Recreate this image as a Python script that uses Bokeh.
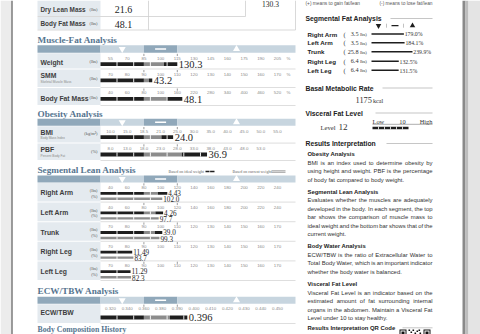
import numpy as np
from bokeh.plotting import figure
from bokeh.embed import file_html
from bokeh.resources import INLINE
from bokeh.core.properties import value

# ---------------- data ----------------
top_labels = ["Dry Lean Mass", "Body Fat Mass"]
top_values = ["21.6", "48.1"]
weight_total = "130.3"

mf_labels = ["Weight", "SMM", "Body Fat Mass"]
mf_sub = ["", "Skeletal Muscle Mass", ""]
mf_units = ["(lbs)", "(lbs)", "(lbs)"]
weight_ticks = [55, 70, 85, 100, 115, 130, 145, 160, 175, 190, 205]
smm_ticks = [70, 80, 90, 100, 110, 120, 130, 140, 150, 160, 170]
bfm_ticks = [40, 60, 80, 100, 160, 220, 280, 340, 400, 460, 520]
mf_pct = [115, 95, 178]          # % of standard (bar length)
mf_values = ["130.3", "43.2", "48.1"]

ob_labels = ["BMI", "PBF"]
ob_sub = ["Body Mass Index", "Percent Body Fat"]
ob_units = ["(kg/m\u00b2)", "(%)"]
bmi_ticks = [10.0, 15.0, 18.5, 21.0, 25.0, 30.0, 35.0, 40.0, 45.0, 50.0, 55.0]
pbf_ticks = [8.0, 13.0, 18.0, 23.0, 28.0, 33.0, 38.0, 43.0, 48.0, 53.0]
ob_values = [24.0, 36.9]

seg_labels = ["Right Arm", "Left Arm", "Trunk", "Right Leg", "Left Leg"]
arm_ticks = [40, 60, 80, 100, 120, 140, 160, 180, 200, 220, 240]
trunk_ticks = [70, 80, 90, 100, 110, 120, 130, 140, 150, 160, 170]
seg_lbs = ["4.43", "4.26", "39.0", "11.49", "11.29"]
seg_ideal_pct = [108, 103, 101, 83, 82]
seg_current_pct = [102.0, 97.7, 99.3, 83.7, 82.3]

ecw_ticks = [0.320, 0.340, 0.360, 0.380, 0.390, 0.400, 0.410, 0.420, 0.430, 0.440, 0.450]
ecw_value = 0.396

fat_labels = ["Right Arm", "Left Arm", "Trunk", "Right Leg", "Left Leg"]
fat_lbs = [3.5, 3.5, 25.8, 6.4, 6.4]
fat_pct = [179.0, 184.1, 239.9, 132.5, 131.5]
bmr = 1175
visceral_level = 12
visceral_ref = 10

obesity_txt = ["BMI is an index used to determine obesity by",
               "using height and weight. PBF is the percentage",
               "of body fat compared to body weight."]
seg_txt = ["Evaluates whether the muscles are adequately",
           "developed in the body. In each segment, the top",
           "bar shows the comparison of muscle mass to",
           "ideal weight and the bottom bar shows that of the",
           "current weight."]
water_txt = ["ECW/TBW is the ratio of Extracellular Water to",
             "Total Body Water, which is an important indicator",
             "whether the body water is balanced."]
visc_txt = ["Visceral Fat Level is an indicator based on the",
            "estimated amount of fat surrounding internal",
            "organs in the abdomen. Maintain a Visceral Fat",
            "Level under 10 to stay healthy."]

# ---------------- figure ----------------
W, H = 480, 334
p = figure(width=W, height=H, x_range=(0, W), y_range=(H, 0), output_backend="svg",
           toolbar_location=None, min_border=0)
p.axis.visible = False
p.xgrid.visible = False
p.ygrid.visible = False
p.outline_line_color = None
p.background_fill_color = "white"
p.border_fill_color = "white"

SANS = "Liberation Sans"
SERIF = "Liberation Serif"
TITLE_C = "#56758f"
HDR_DARK = "#90a8ba"
HDR_LIGHT = "#c7d5df"
CELL = "#e4eaef"
INK = "#1e1e1e"
GRAYBAR = "#8c8c8c"
TXT = "#333333"
LAB = "#3d3d3d"
LAB_SIZE = 6.4


def T(x, y, s, size, color=TXT, font=SANS, style="normal", align="left", base="middle"):
    if not isinstance(s, (list, tuple)):
        x, y, s = [x], [y], [s]
    p.text(x=list(x), y=list(y), text=list(s), text_font=value(font),
           text_font_size=f"{size}px", text_color=color, text_font_style=style,
           text_align=align, text_baseline=base)


def Q(l, r, t, b, color):
    p.quad(left=[l], right=[r], top=[t], bottom=[b], fill_color=color, line_color=None)


def L(x0, y0, x1, y1, color="#d2d2d2", w=0.7):
    p.segment(x0=[x0], y0=[y0], x1=[x1], y1=[y1], line_color=color, line_width=w)


# page frame
Q(0, 11, 0, H, "#ececec")
L(11.5, 0, 11.5, H, "#3a3a3a", 1)
Q(462, 465, 0, H, "#8a8a8a")
Q(465, 468, 0, H, "#bdbdbd")
Q(468, 480, 0, H, "#e4e4e4")

LX0, LX1, SX1 = 37, 100, 295
GX0, GSTEP = 110, 16.7
NRM_L, NRM_R = GX0 + 2 * GSTEP, GX0 + 4 * GSTEP


def gx(v, ticks):
    return GX0 + float(np.interp(v, ticks, np.arange(len(ticks)))) * GSTEP


def title(y, s):
    T(LX0, y, s, 9.2, TITLE_C, SERIF, "bold")


def header(yt, yb):
    Q(LX0, LX1, yt, yb, HDR_DARK)
    Q(LX1, NRM_L, yt, yb, HDR_LIGHT)
    Q(NRM_L, NRM_R, yt, yb, HDR_DARK)
    Q(NRM_R, SX1, yt, yb, HDR_LIGHT)
    ym = (yt + yb) / 2
    p.scatter([(LX1 + NRM_L) / 2], [ym], marker="inverted_triangle", size=7,
              fill_color="white", line_color=None)
    Q((NRM_L + NRM_R) / 2 - 5.5, (NRM_L + NRM_R) / 2 + 5.5, ym - 0.8, ym + 0.8, "white")
    p.scatter([236], [ym], marker="triangle", size=7, fill_color="white", line_color=None)


def scale_row(yt, yb, ticks, fmt, ty, pct=False):
    Q(LX0, LX1, yt + 0.5, yb - 0.5, CELL)
    L(LX1, yb, SX1, yb, "#d0d0d0", 0.7)
    xs = [GX0 + i * GSTEP for i in range(len(ticks))]
    T(xs, [ty] * len(ticks), [fmt.format(t) for t in ticks], 4.4, "#8a8a8a", SANS, align="center")
    for i in (2, 4):
        L(xs[i], ty - 4.2, xs[i], ty - 2.0, "#555555", 0.6)
    if pct:
        T(288, ty, "%", 4.4, "#8a8a8a", SANS, align="center")


def bar(y, h, xend, kind="main"):
    t, b = y - h / 2, y + h / 2
    if kind == "main":
        Q(LX1, min(xend, NRM_L), t, b, INK)
        if xend > NRM_L:
            xm = NRM_L + 0.6 * (xend - NRM_L)
            Q(NRM_L, xm, t, b, GRAYBAR)
            Q(xm, xend, t, b, INK)
    else:
        Q(LX1, xend, t, b, GRAYBAR)
    for g in np.arange(GX0 + 6.5, xend - 2, GSTEP):
        L(g, t - 0.2, g, b + 0.2, "white", 0.9)


# ---------- top table (bottom of Body Composition Analysis) ----------
Q(LX0, LX1, 0, 15.5, CELL)
Q(LX0, LX1, 16.5, 29, CELL)
L(LX0, 16, 245, 16, "#cfcfcf", 0.8)
L(LX0, 29.5, 295, 29.5, "#cfcfcf", 0.8)
L(148, 0, 148, 29.5, "#cfcfcf", 0.8)
L(245, 0, 245, 16, "#cfcfcf", 0.8)
L(295, 0, 295, 29.5, "#cfcfcf", 0.8)
for yy, lab, val in zip([8.5, 23], top_labels, top_values):
    T(40, yy, lab, LAB_SIZE, LAB, SANS, "bold")
    T(97, yy, "(lbs)", 4.4, "#555555", SERIF, align="right")
    T(123, yy + 0.5, val, 10, INK, SERIF, align="center")
T(270, 0.4, weight_total, 7.5, INK, SERIF, align="center", base="top")

# ---------- Muscle-Fat Analysis ----------
title(39, "Muscle-Fat Analysis")
header(44.7, 52.3)
mf_bands = [(52.3, 68.5), (68.5, 87), (87, 105)]
mf_tick_sets = [weight_ticks, smm_ticks, bfm_ticks]
for (yt, yb), lab, sub, unit, ticks, pv, vs in zip(mf_bands, mf_labels, mf_sub, mf_units,
                                                     mf_tick_sets, mf_pct, mf_values):
    ty = yt + 5.2
    scale_row(yt, yb, ticks, "{:d}", ty, pct=True)
    yc = (yt + yb) / 2
    if sub:
        T(40, yc - 2.3, lab, LAB_SIZE + 0.4, LAB, SANS, "bold")
        T(40, yc + 4.0, sub, 3.2, "#8a8a8a", SANS)
    else:
        T(40, yc + 1.5, lab, LAB_SIZE + 0.4, LAB, SANS, "bold")
    T(97, yc + 0.5, unit, 4.4, "#555555", SERIF, align="right")
    by = yt + 11.3
    xe = gx(pv, ticks)
    bar(by, 3.8, xe)
    T(xe + 1.5, by + 0.3, vs, 10.5, INK, SERIF)

# ---------- Obesity Analysis ----------
title(113, "Obesity Analysis")
header(118.3, 125.3)
ob_bands = [(125.3, 142.6), (142.6, 160)]
for (yt, yb), lab, sub, unit, ticks, v in zip(ob_bands, ob_labels, ob_sub, ob_units,
                                              [bmi_ticks, pbf_ticks], ob_values):
    ty = yt + 5.4
    scale_row(yt, yb, ticks, "{:.1f}", ty)
    yc = (yt + yb) / 2
    T(40, yc - 2.3, lab, LAB_SIZE + 0.4, LAB, SANS, "bold")
    T(40, yc + 3.6, sub, 3.2, "#8a8a8a", SANS)
    T(97, yc - 0.5, unit, 4.4, "#555555", SERIF, align="right")
    by = yt + 11.4
    xe = gx(v, ticks)
    bar(by, 3.8, xe)
    T(xe + 1.5, by + 0.3, f"{v:.1f}", 10.5, INK, SERIF)

# ---------- Segmental Lean Analysis ----------
title(169.5, "Segmental Lean Analysis")
T(168, 171, "Based on ideal weight", 4.0, "#666666", SERIF)
Q(205, 209, 170.2, 171.8, INK)
Q(209.6, 214, 170.2, 171.8, INK)
T(232, 171, "Based on current weight", 4.0, "#666666", SERIF)
L(271, 170.3, 285, 170.3, "#777777", 0.7)
L(271, 171.8, 285, 171.8, "#777777", 0.7)
header(175, 182)
seg_top = 182
seg_h = 19.6
for i, lab in enumerate(seg_labels):
    yt = seg_top + i * seg_h
    yb = yt + seg_h
    ticks = arm_ticks if i < 2 else trunk_ticks
    scale_row(yt, yb, ticks, "{:d}", yt + 5.0)
    yc = (yt + yb) / 2
    T(40, yc + 0.5, lab, LAB_SIZE + 0.4, LAB, SANS, "bold")
    T(97, yt + 8.0, "(lbs)", 4.2, "#555555", SERIF, align="right")
    T(97, yt + 13.8, "(%)", 4.2, "#555555", SERIF, align="right")
    y1 = yt + 10.8
    y2 = yt + 16.3
    x1 = gx(seg_ideal_pct[i], ticks)
    x2 = gx(seg_current_pct[i], ticks)
    bar(y1, 2.8, x1)
    bar(y2, 2.4, x2, "cur")
    T(x1 + 1, y1 - 0.3, seg_lbs[i], 7.2, INK, SERIF)
    T(x2 + 1, y2 + 0.6, f"{seg_current_pct[i]:.1f}", 7.2, INK, SERIF)

# ---------- ECW/TBW Analysis ----------
title(290, "ECW/TBW Analysis")
header(296.3, 303.3)
yt, yb = 303.3, 323
scale_row(yt, yb, ecw_ticks, "{:.3f}", yt + 5.0)
T(40, 312, "ECW/TBW", LAB_SIZE + 0.4, LAB, SANS, "bold")
xe = gx(ecw_value, ecw_ticks)
bar(317, 3.8, xe)
T(xe + 1.5, 317.3, f"{ecw_value:.3f}", 10.5, INK, SERIF)
T(LX0, 328.6, "Body Composition History", 7.8, TITLE_C, SERIF, "bold", base="middle")

# ---------- right column ----------
RX = 305
RX1 = 432
T(RX, 3.4, "(+) means to gain fat/lean", 4.8, "#555555", SANS)
T(RX1, 3.4, "(-) means to lose fat/lean", 4.8, "#555555", SANS, align="right")


def rhead(y, s, x_line):
    T(RX, y, s, 6.8, "#222222", SANS, "bold")
    L(x_line, y, RX1, y, "#a0a0a0", 0.6)


rhead(18, "Segmental Fat Analysis", 390)
p.scatter([378], [25.2], marker="inverted_triangle", size=5.5, fill_color=INK, line_color=None)
L(386, 23.2, 386, 27.2, "#999999", 0.6)
Q(391, 398, 24.6, 25.8, INK)
L(403, 23.2, 403, 27.2, "#999999", 0.6)
p.scatter([412], [25.2], marker="triangle", size=5.5, fill_color=INK, line_color=None)

FX0 = 371
fat_scale_pct = [0, 130, 180, 240]
fat_scale_px = [0, 27, 32.5, 41]
fat_ys = [33.5, 42.3, 51.2, 60.8, 69.8]
for lab, lbs, pc, fy in zip(fat_labels, fat_lbs, fat_pct, fat_ys):
    T(307, fy, lab, 6.2, "#222222", SANS, "bold")
    T(343, fy, "(", 6.2, TXT, SERIF)
    T(358, fy, f"{lbs:.1f}", 6.2, TXT, SERIF, align="right")
    T(359.5, fy + 0.3, "lbs)", 4.6, TXT, SERIF)
    xe = FX0 + float(np.interp(pc, fat_scale_pct, fat_scale_px))
    L(FX0, fy, xe, fy, INK, 1.6)
    T(xe + 0.8, fy + 0.3, f"{pc:.1f}%", 5.8, TXT, SERIF)

rhead(87.5, "Basal Metabolic Rate", 382)
T(355, 99.5, f"{bmr}", 8.4, TXT, SERIF)
T(372.5, 100, "kcal", 6.2, TXT, SERIF)

rhead(112.5, "Visceral Fat Level", 375)
T(320, 126.5, "Level", 6.6, TXT, SERIF)
T(338, 126, f"{visceral_level}", 9.2, TXT, SERIF)
T(372, 121, "Low", 6.4, TXT, SERIF)
VX0, VSTEP = 372, 3.0
T(VX0 + visceral_ref * VSTEP, 121, f"{visceral_ref}", 6.4, TXT, SERIF, align="center")
T(RX1, 121, "High", 6.4, TXT, SERIF, align="right")
L(372, 123.8, RX1, 123.8, "#777777", 0.6)
Q(VX0, VX0 + visceral_level * VSTEP, 126.3, 128.7, INK)
for g in np.arange(VX0 + 6, VX0 + visceral_level * VSTEP, 6):
    L(g, 126.1, g, 128.9, "white", 0.8)

rhead(143, "Results Interpretation", 386)

# Arial / Liberation Sans advance widths (1/1000 em) for justified paragraphs
_W = {" ": 278, ".": 278, ",": 278, "/": 278, "-": 333, "(": 333, ")": 333,
      "0": 556, "1": 556, "2": 556, "3": 556, "4": 556, "5": 556, "6": 556, "7": 556, "8": 556, "9": 556,
      "A": 667, "B": 667, "C": 722, "D": 722, "E": 667, "F": 611, "G": 778, "H": 722, "I": 278,
      "J": 500, "K": 667, "L": 556, "M": 833, "N": 722, "O": 778, "P": 667, "Q": 778, "R": 722,
      "S": 667, "T": 611, "U": 722, "V": 667, "W": 944, "X": 667, "Y": 667, "Z": 611,
      "a": 556, "b": 556, "c": 500, "d": 556, "e": 556, "f": 278, "g": 556, "h": 556, "i": 222,
      "j": 222, "k": 500, "l": 222, "m": 833, "n": 556, "o": 556, "p": 556, "q": 556, "r": 333,
      "s": 500, "t": 278, "u": 556, "v": 500, "w": 722, "x": 500, "y": 500, "z": 500}
BODY = 5.9
PX0, PX1 = 307, 432


def wwidth(s, size):
    return sum(_W.get(c, 556) for c in s) / 1000.0 * size


def para(yh, head, lines, y0):
    T(PX0, yh, head, 5.9, "#222222", SANS, "bold")
    xs, ys, ws = [], [], []
    for k, line in enumerate(lines):
        y = y0 + 8.5 * k
        words = line.split(" ")
        if k == len(lines) - 1 or len(words) < 2:
            xs.append(PX0); ys.append(y); ws.append(line)
            continue
        widths = [wwidth(w, BODY) for w in words]
        gap = (PX1 - PX0 - sum(widths)) / (len(words) - 1)
        x = PX0
        for j, (w, wd) in enumerate(zip(words, widths)):
            if j == len(words) - 1:
                xs.append(PX1 - wd)
            else:
                xs.append(x)
            ys.append(y); ws.append(w)
            x += wd + gap
    T(xs, ys, ws, BODY, TXT, SANS)


para(153.5, "Obesity Analysis", obesity_txt, 162.3)
para(191, "Segmental Lean Analysis", seg_txt, 199.6)
para(245.5, "Body Water Analysis", water_txt, 254)
para(283, "Visceral Fat Level", visc_txt, 292)
T(PX0, 327.3, "Results Interpretation QR Code", 5.9, "#222222", SANS, "bold")
L(402, 327.3, RX1, 327.3, "#a0a0a0", 0.6)
# QR code (top rows visible)
for qx in (399, 423):
    Q(qx, qx + 7, 329, 336, "#111111")
    Q(qx + 1, qx + 6, 330, 336, "white")
    Q(qx + 2, qx + 5, 331, 336, "#111111")
for qx, qy in [(408, 329), (410, 331), (412, 329), (414, 332), (416, 330), (418, 329), (419, 332)]:
    Q(qx, qx + 1.6, qy, qy + 1.6, "#111111")

open("out.html", "w").write(file_html(p, INLINE))
